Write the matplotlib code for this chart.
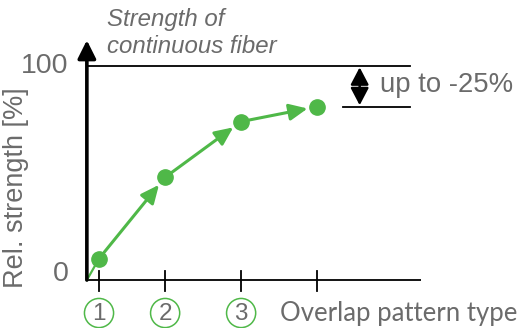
import matplotlib.pyplot as plt

# Data
pattern_pos = [1.0, 1.87, 2.87, 3.87]
rel_strength = [10, 48, 74, 81]
pattern_labels = ['1', '2', '3']
y_ticks = [0, 100]

green = '#4fb848'
gray = '#6b6b6b'

fig = plt.figure(figsize=(5.21, 3.28), dpi=100)
ax = fig.add_axes([0, 0, 1, 1])
ax.set_xlim(-0.303, 6.553)
ax.set_ylim(-22.4, 130.8)
ax.axis('off')

x0 = 0.84

# y axis with arrow
ax.annotate('', xy=(x0, 112), xytext=(x0, 0),
            arrowprops=dict(arrowstyle='-|>,head_length=1.1,head_width=0.55',
                            lw=2.6, color='black', mutation_scale=10,
                            shrinkA=0, shrinkB=0))
# x axis and ticks
ax.plot([x0, 5.24], [0, 0], color='black', lw=1.3, solid_capstyle='butt')
for xp in pattern_pos:
    ax.plot([xp, xp], [4.2, -5.2], color='black', lw=1.3)

# reference lines
ax.plot([x0, 5.09], [100, 100], color='black', lw=1.3)
ax.plot([4.21, 5.09], [rel_strength[-1], rel_strength[-1]], color='black', lw=1.3)
ax.annotate('', xy=(4.43, 100), xytext=(4.43, rel_strength[-1]),
            arrowprops=dict(arrowstyle='<|-|>,head_length=1.05,head_width=0.55',
                            lw=1.8, color='black', mutation_scale=10,
                            shrinkA=1, shrinkB=1))

# strength curve
ax.plot([x0, pattern_pos[0]], [0, rel_strength[0]], color=green, lw=1.6)
for i in range(len(pattern_pos) - 1):
    ax.annotate('', xy=(pattern_pos[i + 1], rel_strength[i + 1]),
                xytext=(pattern_pos[i], rel_strength[i]),
                arrowprops=dict(arrowstyle='-|>,head_length=1.1,head_width=0.5',
                                lw=2.2, color=green, mutation_scale=10,
                                shrinkA=6, shrinkB=7))
ax.plot(pattern_pos, rel_strength, 'o', color=green, ms=11, zorder=5)

# labels
font = 'Liberation Sans'
for yt in y_ticks:
    ax.text(0.6, yt + (3 if yt == 0 else 0), str(yt), ha='right', va='center',
            fontsize=20.5, color=gray, family=font)
ax.text(-0.09, 43, 'Rel. strength [%]', rotation=90, ha='center', va='center',
        fontsize=19.5, color=gray, family=font)
ax.text(1.105, 121.5, 'Strength of', ha='left', va='center', fontsize=17.3,
        style='italic', color=gray, family=font)
ax.text(1.105, 108.9, 'continuous fiber', ha='left', va='center', fontsize=17.3,
        style='italic', color=gray, family=font)
ax.text(4.70, 91, 'up to -25%', ha='left', va='center', fontsize=19.8,
        color=gray, family=font)
ax.text(3.38, -15.4, 'Overlap pattern type', ha='left', va='center',
        fontsize=18.5, color=gray, family='Lato')

# circled pattern numbers
ax.scatter(pattern_pos[:3], [-15.4] * 3, s=440, facecolors='none',
           edgecolors=green, linewidths=1.1)
for xp, lab in zip(pattern_pos, pattern_labels):
    ax.text(xp, -15.7, lab, ha='center', va='center', fontsize=17.5,
            color=gray, family=font)

fig.savefig('out.png', dpi=100)
